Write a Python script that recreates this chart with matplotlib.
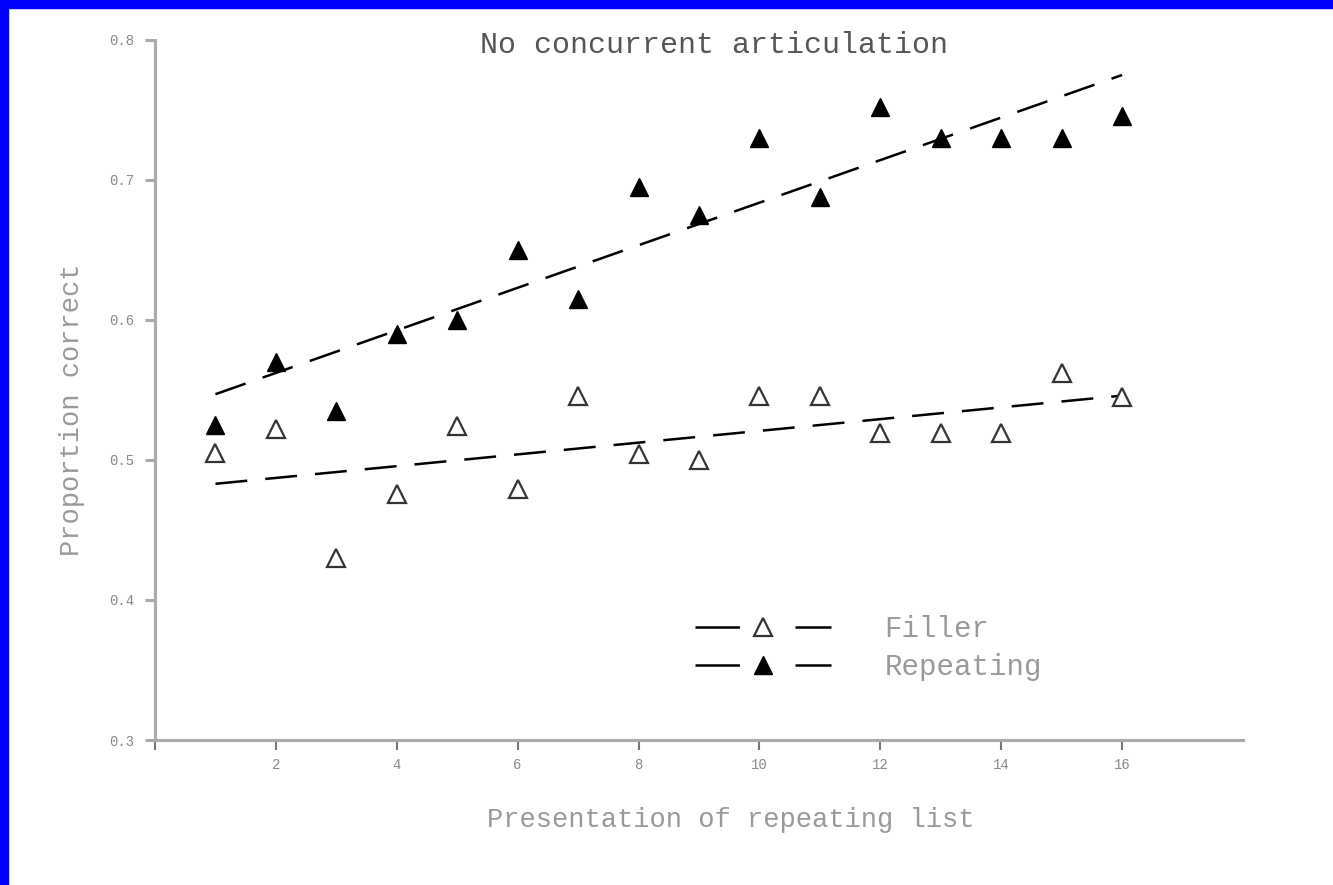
import matplotlib
matplotlib.use("Agg")
import matplotlib.pyplot as plt
from matplotlib.lines import Line2D
from matplotlib.patches import Rectangle

# values
presentation = [1, 2, 3, 4, 5, 6, 7, 8, 9, 10, 11, 12, 13, 14, 15, 16]
repeating = [0.525, 0.57, 0.535, 0.59, 0.60, 0.65, 0.615, 0.695,
             0.675, 0.73, 0.688, 0.752, 0.73, 0.73, 0.73, 0.746]
filler = [0.505, 0.522, 0.43, 0.476, 0.524, 0.479, 0.546, 0.504,
          0.50, 0.546, 0.546, 0.519, 0.519, 0.519, 0.562, 0.545]
# trend lines (endpoints as drawn)
trend_x = [1, 16]
trend_repeating = [0.547, 0.775]
trend_filler = [0.483, 0.546]

xticks = [0, 2, 4, 6, 8, 10, 12, 14, 16]
xtick_labels = ["", "2", "4", "6", "8", "10", "12", "14", "16"]
yticks = [0.3, 0.4, 0.5, 0.6, 0.7, 0.8]
ytick_labels = ["0.3", "0.4", "0.5", "0.6", "0.7", "0.8"]

plt.rcParams["font.family"] = ["Liberation Mono", "DejaVu Sans Mono"]
plt.rcParams["lines.scale_dashes"] = False

W, H = 1333, 885
fig = plt.figure(figsize=(W / 100, H / 100), dpi=100)
fig.patch.set_facecolor("white")
# blue frame on the left and top edges
fig.patches.append(Rectangle((0, 0), 8 / W, 1, transform=fig.transFigure,
                             color="#0000ff", zorder=10))
fig.patches.append(Rectangle((0, 1 - 8 / H), 1, 8 / H, transform=fig.transFigure,
                             color="#0000ff", zorder=10))

ax = fig.add_axes([155 / W, 1 - 740 / H, (1243 - 155) / W, 700 / H])
ax.set_xlim(0, 18)
ax.set_ylim(0.3, 0.8)

dash = (23, 13)
ax.plot(trend_x, trend_repeating, color="black", lw=1.8, dashes=dash)
ax.plot(trend_x, trend_filler, color="black", lw=1.8, dashes=dash)
ax.plot(presentation, repeating, linestyle="none", marker="^", ms=13,
        color="black", clip_on=False)
ax.plot(presentation, filler, linestyle="none", marker="^", ms=13,
        markerfacecolor="white", markeredgecolor="#333333", mew=1.6, clip_on=False)

for side in ["top", "right"]:
    ax.spines[side].set_visible(False)
for side in ["left", "bottom"]:
    ax.spines[side].set_color("#aaaaaa")
    ax.spines[side].set_linewidth(2.2)

ax.set_xticks(xticks)
ax.set_xticklabels(xtick_labels)
ax.set_yticks(yticks)
ax.set_yticklabels(ytick_labels)
ax.tick_params(axis="x", direction="out", length=7, width=1.5, color="#777777",
               labelsize=10, labelcolor="#888888", pad=6)
ax.tick_params(axis="y", direction="out", length=7, width=2.2, color="#aaaaaa",
               labelsize=10, labelcolor="#888888", pad=8)

fig.text(714 / W, 1 - 45 / H, "No concurrent articulation", ha="center", va="center",
         fontsize=21.6, color="#555555")
fig.text(731 / W, 1 - 820 / H, "Presentation of repeating list", ha="center",
         va="center", fontsize=19.5, color="#999999")
fig.text(72 / W, 1 - 410 / H, "Proportion correct", ha="center", va="center",
         rotation=90, fontsize=19.5, color="#999999")

handles = [
    Line2D([], [], color="black", lw=1.8, dashes=(32, 40), marker="^", ms=13,
           markerfacecolor="white", markeredgecolor="#333333", mew=1.6),
    Line2D([], [], color="black", lw=1.8, dashes=(32, 40), marker="^", ms=13),
]
leg = fig.legend(handles, ["Filler", "Repeating"], loc="center left",
                 bbox_to_anchor=(695 / W, 1 - 648 / H), frameon=False,
                 fontsize=21, handlelength=4.68, handletextpad=1.82,
                 labelspacing=0.35, borderpad=0, borderaxespad=0, numpoints=1)
for t in leg.get_texts():
    t.set_color("#999999")

fig.savefig("out.png", dpi=100)
